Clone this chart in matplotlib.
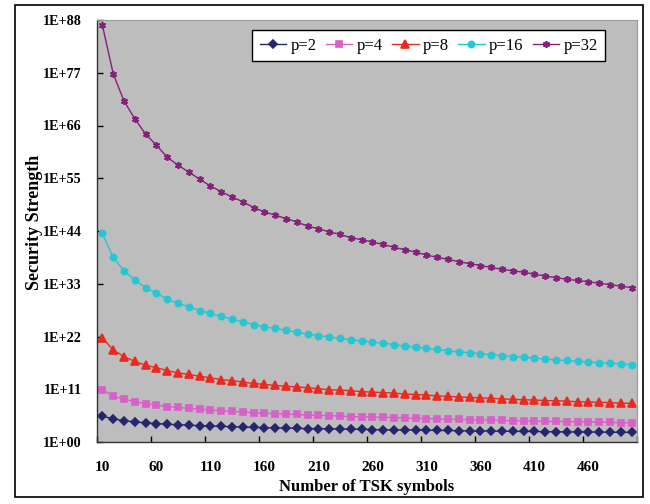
import matplotlib
matplotlib.use("Agg")
import matplotlib.pyplot as plt
import numpy as np
from matplotlib.ticker import FixedLocator, FixedFormatter, NullFormatter
from matplotlib.patches import Rectangle

# Number of TSK symbols (categories)
symbols = list(range(10, 501, 10))
x_tick_labels = ["10", "60", "110", "160", "210", "260", "310", "360", "410", "460"]
y_tick_exps = [0, 11, 22, 33, 44, 55, 66, 77, 88]
y_tick_labels = ["1E+00", "1E+11", "1E+22", "1E+33", "1E+44", "1E+55", "1E+66", "1E+77", "1E+88"]

# Security strength, stored as log10 values
exp_p2 = [5.4, 4.8, 4.45, 4.2, 4.0, 3.85, 3.7, 3.6, 3.5, 3.4, 3.35, 3.25, 3.2, 3.1, 3.05, 3.0, 2.95, 2.9, 2.85, 2.8,
          2.8, 2.75, 2.7, 2.65, 2.65, 2.6, 2.55, 2.55, 2.5, 2.5, 2.45, 2.4, 2.4, 2.35, 2.3, 2.3, 2.3, 2.25, 2.2, 2.2,
          2.2, 2.15, 2.15, 2.1, 2.1, 2.1, 2.05, 2.05, 2.0, 2.0]
exp_p4 = [10.9, 9.6, 8.9, 8.4, 8.0, 7.7, 7.4, 7.2, 7.0, 6.85, 6.7, 6.5, 6.4, 6.25, 6.1, 6.0, 5.9, 5.8, 5.75, 5.6,
          5.55, 5.5, 5.4, 5.3, 5.25, 5.2, 5.15, 5.1, 5.0, 4.95, 4.9, 4.8, 4.75, 4.7, 4.65, 4.6, 4.55, 4.5, 4.45, 4.4,
          4.4, 4.3, 4.3, 4.25, 4.2, 4.2, 4.15, 4.1, 4.05, 4.0]
exp_p8 = [21.7, 19.2, 17.8, 16.8, 16.0, 15.5, 14.9, 14.4, 14.1, 13.7, 13.4, 13.0, 12.8, 12.5, 12.2, 12.0, 11.8, 11.6,
          11.5, 11.3, 11.1, 10.9, 10.8, 10.7, 10.5, 10.4, 10.3, 10.2, 10.0, 9.9, 9.8, 9.6, 9.5, 9.4, 9.3, 9.2, 9.1,
          9.0, 8.9, 8.8, 8.75, 8.65, 8.6, 8.5, 8.4, 8.35, 8.3, 8.2, 8.1, 8.05]
exp_p16 = [43.5, 38.5, 35.7, 33.8, 32.2, 31.0, 29.8, 28.9, 28.2, 27.4, 26.8, 26.2, 25.6, 25.1, 24.5, 24.0, 23.7, 23.3,
           22.9, 22.5, 22.2, 21.9, 21.6, 21.3, 21.1, 20.8, 20.6, 20.3, 20.0, 19.8, 19.5, 19.3, 19.0, 18.8, 18.6, 18.4,
           18.2, 18.0, 17.8, 17.7, 17.5, 17.3, 17.1, 17.0, 16.8, 16.7, 16.5, 16.4, 16.3, 16.1]
exp_p32 = [86.9, 76.8, 71.1, 67.4, 64.2, 61.9, 59.4, 57.7, 56.3, 54.8, 53.4, 52.2, 51.1, 50.1, 48.9, 48.0, 47.3, 46.6,
           45.9, 45.0, 44.5, 43.8, 43.3, 42.6, 42.2, 41.7, 41.2, 40.6, 40.1, 39.6, 39.0, 38.5, 38.1, 37.6, 37.2, 36.8,
           36.4, 36.0, 35.7, 35.4, 35.0, 34.6, 34.3, 33.9, 33.7, 33.4, 33.1, 32.8, 32.5, 32.2]

series_names = ["p=2", "p=4", "p=8", "p=16", "p=32"]
series_exps = [exp_p2, exp_p4, exp_p8, exp_p16, exp_p32]

colors = ["#26266e", "#d860c8", "#e82a20", "#28c6d2", "#84207a"]
markers = ["D", "s", "^", "o", (6, 2, 0)]
msizes = [4.0, 4.5, 5.5, 4.5, 5.0]

serif = ["Liberation Serif", "DejaVu Serif"]

fig = plt.figure(figsize=(6.5, 5.04), dpi=100)
fig.patch.set_facecolor("white")
ax = fig.add_axes([97 / 650, 1 - 442 / 504, (637 - 97) / 650, (442 - 20) / 504])
ax.set_facecolor("#bdbdbd")

for name, exps, c, m, ms in zip(series_names, series_exps, colors, markers, msizes):
    vals = 10.0 ** np.array(exps)
    ax.plot(symbols, vals, color=c, lw=1.0, marker=m, ms=ms, mfc=c, mec=c, mew=1.2, label=name)

ax.set_yscale("log")
ax.set_ylim(1.0, 1e88)
ax.yaxis.set_major_locator(FixedLocator([10.0 ** e for e in y_tick_exps]))
ax.yaxis.set_major_formatter(FixedFormatter(y_tick_labels))
ax.yaxis.set_minor_locator(FixedLocator([]))

ax.set_xlim(5, 505)
ax.set_xticks([5 + 50 * k for k in range(11)])
ax.xaxis.set_major_formatter(NullFormatter())
ax.set_xticks([int(t) for t in x_tick_labels], minor=True)
ax.set_xticklabels(x_tick_labels, minor=True)

ax.tick_params(axis="both", which="major", direction="in", length=4, width=1, colors="black")
ax.tick_params(axis="x", which="minor", length=0, pad=14)
ax.tick_params(axis="y", which="major", pad=11)
for lab in ax.get_yticklabels():
    lab.set_fontfamily(serif)
    lab.set_fontweight("bold")
    lab.set_fontsize(10.2)
for lab in ax.get_xticklabels(minor=True):
    lab.set_fontfamily(serif)
    lab.set_fontweight("bold")
    lab.set_fontsize(11)

for s in ["left", "bottom"]:
    ax.spines[s].set_color("#333333")
    ax.spines[s].set_linewidth(1.0)
for s in ["top", "right"]:
    ax.spines[s].set_color("#9a9a9a")
    ax.spines[s].set_linewidth(0.8)

ax.set_xlabel("Number of TSK symbols", fontfamily=serif, fontweight="bold", fontsize=12)
ax.xaxis.set_label_coords(0.5, -0.087)
ax.set_ylabel("Security Strength", fontfamily=serif, fontweight="bold", fontsize=13)
ax.yaxis.set_label_coords(-0.1, 0.52)

leg = ax.legend(ncol=5, loc="upper right", bbox_to_anchor=(0.941, 0.976), frameon=True, fancybox=False,
                prop={"family": serif, "size": 12}, handlelength=1.6, handletextpad=0.25, columnspacing=0.55,
                borderpad=0.45, borderaxespad=0)
leg.get_frame().set_edgecolor("black")
leg.get_frame().set_linewidth(1.0)
leg.get_frame().set_facecolor("white")
leg.get_frame().set_alpha(1.0)

# outer chart border
fig.patches.append(Rectangle((15 / 650, 1 - 497 / 504), (643 - 15) / 650, (497 - 5) / 504,
                             transform=fig.transFigure, fill=False, edgecolor="black", lw=1.2))

fig.savefig("out.png", dpi=100)
